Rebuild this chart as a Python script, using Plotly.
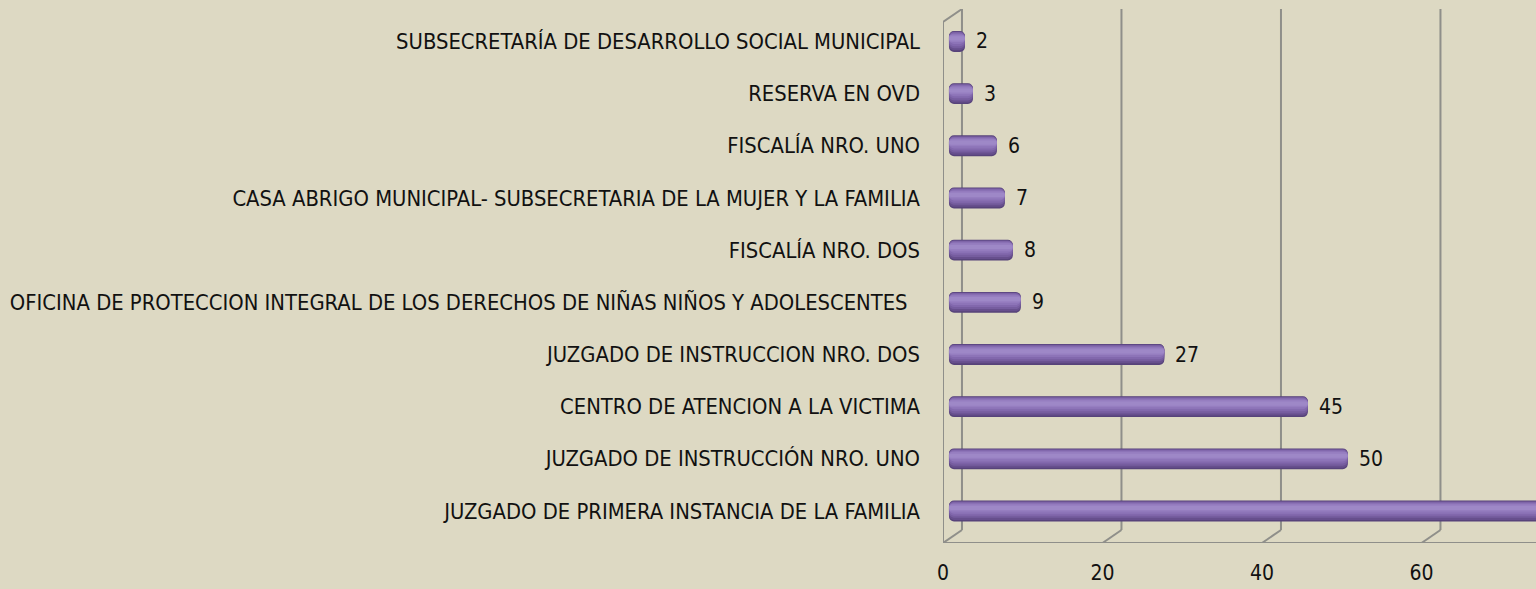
import plotly.graph_objects as go

categories = [
    "JUZGADO DE PRIMERA INSTANCIA DE LA FAMILIA",
    "JUZGADO DE INSTRUCCIÓN NRO. UNO",
    "CENTRO DE ATENCION A LA VICTIMA",
    "JUZGADO DE INSTRUCCION NRO. DOS",
    "OFICINA DE PROTECCION INTEGRAL DE LOS DERECHOS DE NIÑAS NIÑOS Y ADOLESCENTES\u00a0\u00a0",
    "FISCALÍA NRO. DOS",
    "CASA ABRIGO MUNICIPAL- SUBSECRETARIA DE LA MUJER Y LA FAMILIA",
    "FISCALÍA NRO. UNO",
    "RESERVA EN OVD",
    "SUBSECRETARÍA DE DESARROLLO SOCIAL MUNICIPAL",
]
values = [78, 50, 45, 27, 9, 8, 7, 6, 3, 2]
x_ticks = [0, 20, 40, 60]

ypos = list(range(len(categories)))
BASE = 0.75          # bar start inside the 3D left wall
DEPTH_X = 2.38       # 3D depth offset in x units
Y_MIN, Y_MAX = -0.613, 9.622
Y_BACK_FLOOR = -0.364
Y_FRONT_TOP = 9.373
X_MAX = 74.36

FONT = "DejaVu Sans Condensed, Liberation Sans Narrow, Arial Narrow, sans-serif"
BG = "#DDD9C3"
GRID = "#8f8f8a"
TXT = "#111111"

fig = go.Figure()

# cylinder-like bars: layered bands (dark edges -> light highlight)
layers = [
    ("#57437a", 0.40, -0.20),
    ("#674f8d", 0.36, -0.17),
    ("#765d9f", 0.31, -0.13),
    ("#8268ad", 0.26, -0.09),
    ("#8d74b8", 0.20, -0.05),
    ("#967ec0", 0.14, -0.01),
    ("#9e88c7", 0.08, 0.02),
]
for color, w, off in layers:
    fig.add_trace(go.Bar(
        y=ypos, x=values, base=BASE, orientation="h",
        width=w, offset=off,
        marker=dict(color=color, line=dict(width=0), cornerradius=5),
        hoverinfo="skip", showlegend=False,
    ))

# value labels
for yv, v in zip(ypos, values):
    fig.add_annotation(
        x=BASE + v, y=yv, xref="x", yref="y", text=str(v),
        showarrow=False, xanchor="left", yanchor="middle", xshift=9,
        font=dict(family=FONT, size=21, color=TXT),
    )

shapes = []
line = dict(color=GRID, width=2)
for t in x_ticks:
    shapes.append(dict(type="line", xref="x", yref="y", x0=t + DEPTH_X, x1=t + DEPTH_X,
                       y0=Y_BACK_FLOOR, y1=Y_MAX, line=line, layer="below"))
    shapes.append(dict(type="line", xref="x", yref="y", x0=t, x1=t + DEPTH_X,
                       y0=Y_MIN, y1=Y_BACK_FLOOR, line=line, layer="below"))
shapes.append(dict(type="line", xref="x", yref="y", x0=0, x1=0, y0=Y_MIN, y1=Y_FRONT_TOP,
                   line=line, layer="below"))
shapes.append(dict(type="line", xref="x", yref="y", x0=0, x1=DEPTH_X, y0=Y_FRONT_TOP, y1=Y_MAX,
                   line=line, layer="below"))
shapes.append(dict(type="line", xref="x", yref="y", x0=0, x1=X_MAX, y0=Y_MIN, y1=Y_MIN,
                   line=line, layer="below"))

fig.update_layout(
    width=1536, height=589,
    margin=dict(l=943, r=0, t=9, b=46, autoexpand=False),
    paper_bgcolor=BG, plot_bgcolor=BG,
    barmode="overlay",
    shapes=shapes,
    font=dict(family=FONT, size=21.8, color=TXT),
    xaxis=dict(range=[0, X_MAX], tickvals=x_ticks, ticktext=[str(t) for t in x_ticks],
               showgrid=False, zeroline=False, showline=False, ticks="", automargin=False,
               ticklabelstandoff=15, tickfont=dict(family=FONT, size=21, color=TXT)),
    yaxis=dict(range=[Y_MIN, Y_MAX], tickvals=ypos, ticktext=categories,
               showgrid=False, zeroline=False, showline=False, ticks="", automargin=False,
               ticklabelstandoff=22, tickfont=dict(family=FONT, size=21.8, color=TXT)),
)

fig.write_html("out.html", config={"displayModeBar": False},
               post_script="document.body.style.margin='0';")
